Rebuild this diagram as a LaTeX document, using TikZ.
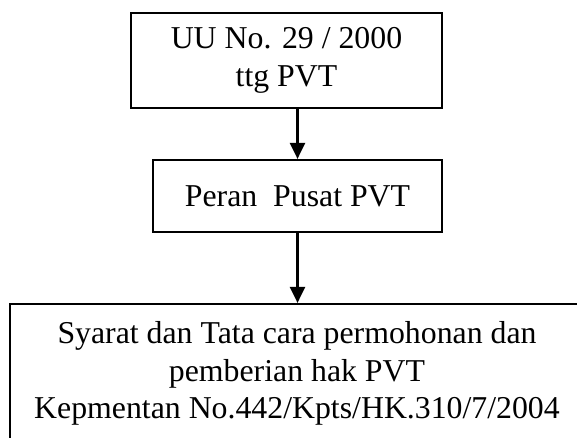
\documentclass[tikz,border=0pt]{standalone}
\usepackage{fontspec}
\setmainfont{Liberation Serif}
\usetikzlibrary{arrows.meta}
\begin{document}
\begin{tikzpicture}[x=1pt,y=1pt,
  box/.style={draw=black,line width=2.2pt,rectangle,inner sep=0pt,align=center,
    font=\fontsize{31.8}{37.4}\selectfont},
  arr/.style={line width=2.4pt,-{Triangle[width=15pt,length=16pt]}}]
\clip (0,0) rectangle (577,-438);
\useasboundingbox (0,0) rectangle (577,-438);
\node[box,minimum width=311pt,minimum height=95pt] (top) at (286.5,-60.5)
  {UU No. 29 / 2000\\ttg PVT};
\node[box,minimum width=289pt,minimum height=72pt] (mid) at (297.5,-196)
  {Peran\ \ Pusat PVT};
\node[box,minimum width=574pt,minimum height=139pt] (bot) at (297,-373.5)
  {Syarat dan Tata cara permohonan dan\\pemberian hak PVT\\Kepmentan No.442/Kpts/HK.310/7/2004};
\draw[arr] (top.south -| mid.north) -- (mid.north);
\draw[arr] (mid.south) -- (mid.south |- bot.north);
\end{tikzpicture}
\end{document}
